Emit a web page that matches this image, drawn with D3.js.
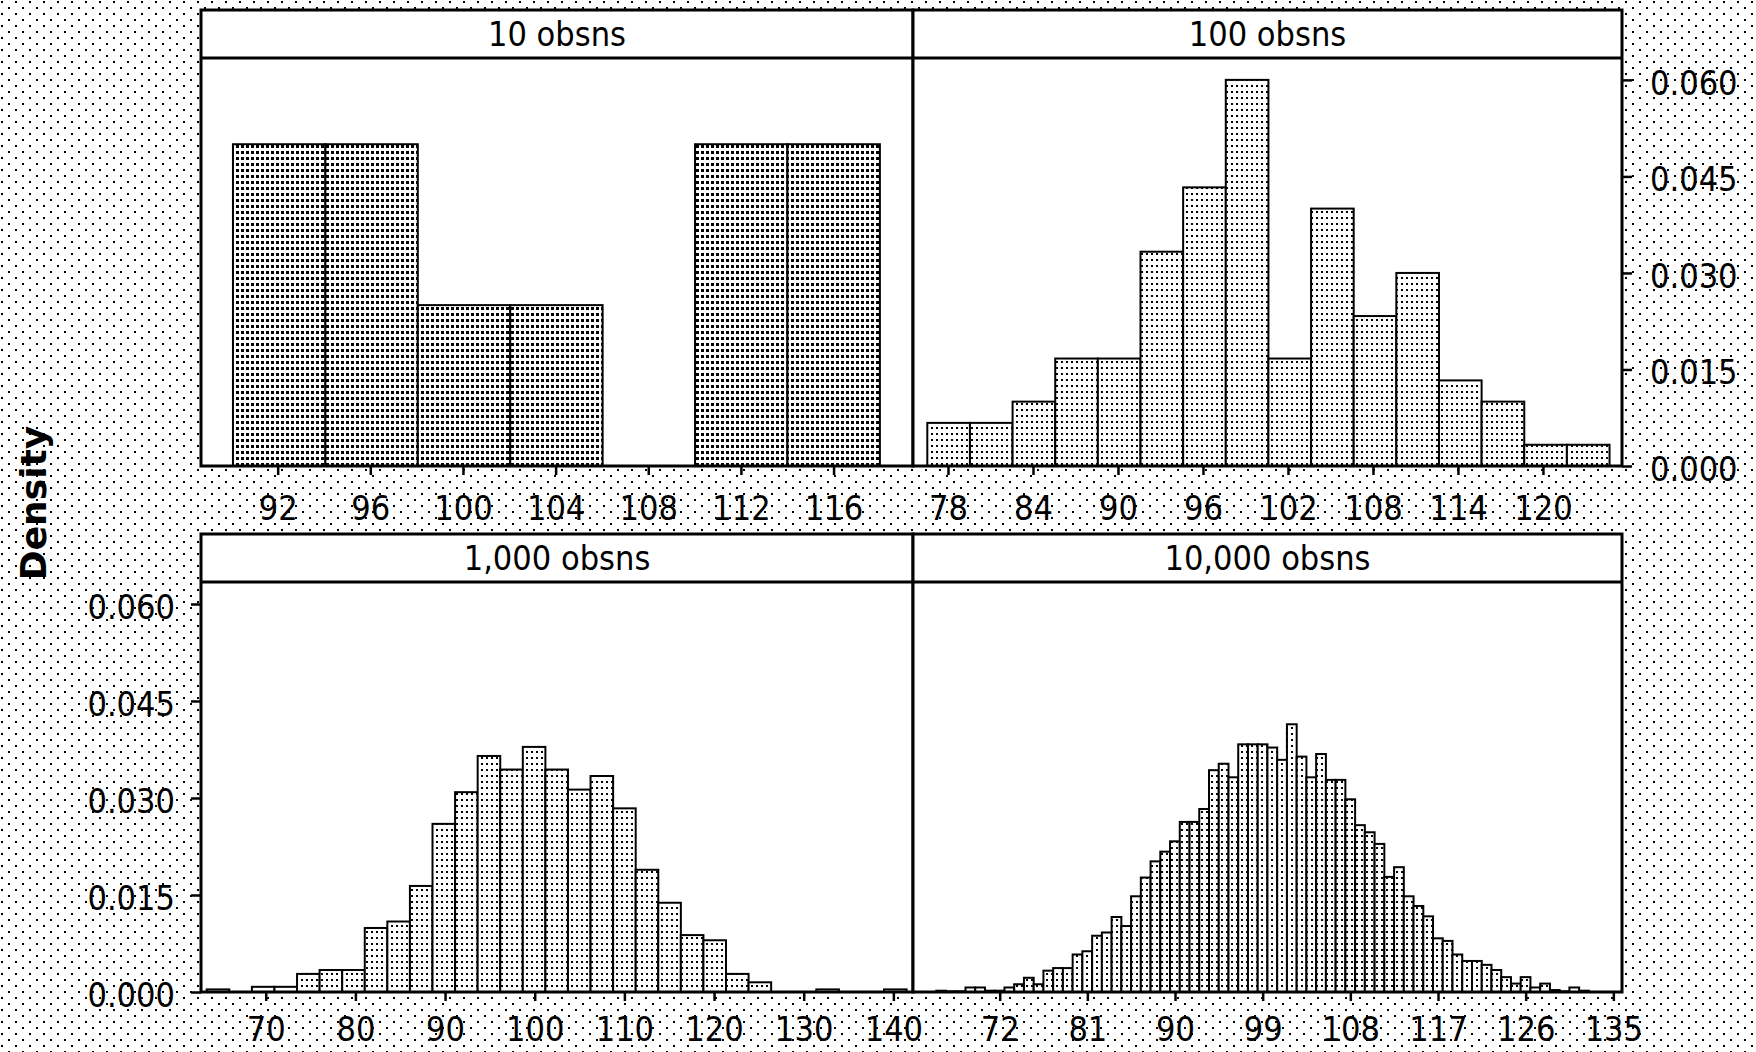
<!DOCTYPE html>
<html>
<head>
<meta charset="utf-8">
<script src="https://cdn.jsdelivr.net/npm/d3@7"></script>
<style>
	html, body { margin: 0; padding: 0; background: #fff; }
	svg { display: block; }
</style>
</head>
<body>
<svg id="chart" width="1756" height="1052"></svg>
<script>

const titles = ["10 obsns", "100 obsns", "1,000 obsns", "10,000 obsns"];

// lower edge of the first bin and bin width, per panel
const binStart = [90.07, 76.54, 63.42, 65.49];
const binWidth = [3.99, 3.01, 2.518, 1.0];

const density10 = [0.05, 0.05, 0.025, 0.025, 0, 0.05, 0.05];

const density100 = [0.0067, 0.0067, 0.01, 0.0167, 0.0167, 0.0333, 0.0433, 0.06,
	0.0167, 0.04, 0.0233, 0.03, 0.0133, 0.01, 0.0033, 0.0033];

const density1000 = [0.0004, 0, 0.0008, 0.0008, 0.0028, 0.0034, 0.0034, 0.0099,
	0.0109, 0.0164, 0.026, 0.0309, 0.0365, 0.0344, 0.0379, 0.0344, 0.0313, 0.0334,
	0.0284, 0.0189, 0.0138, 0.0088, 0.008, 0.0028, 0.0015, 0, 0, 0.0004, 0, 0, 0.0004];

const density10000 = [0.0002, 0.0001, 0.0001, 0.0007, 0.0007, 0.0002, 0.0002, 0.0007,
	0.0012, 0.0022, 0.0012, 0.0033, 0.0037, 0.0037, 0.0058, 0.0063, 0.0087, 0.0092,
	0.0116, 0.0102, 0.0148, 0.0177, 0.0202, 0.0217, 0.0233, 0.0263, 0.0263, 0.0283,
	0.0343, 0.0353, 0.0332, 0.0383, 0.0383, 0.0383, 0.0378, 0.0359, 0.0414, 0.0364,
	0.0332, 0.0368, 0.0328, 0.0328, 0.0298, 0.0258, 0.0247, 0.0229, 0.0178, 0.0193,
	0.0148, 0.0133, 0.0117, 0.0083, 0.0079, 0.0058, 0.0048, 0.0048, 0.0042, 0.0034,
	0.0023, 0.0013, 0.0023, 0.0007, 0.0013, 0.0003, 0.0001, 0.0007, 0.0002];

const xDomains = [[88.69, 119.43], [75.53, 125.58], [62.78, 142.19], [63.1, 135.89]];

const xTicks = [
	[92, 96, 100, 104, 108, 112, 116],
	[78, 84, 90, 96, 102, 108, 114, 120],
	[70, 80, 90, 100, 110, 120, 130, 140],
	[72, 81, 90, 99, 108, 117, 126, 135]
];

const yTicks = [0, 0.015, 0.030, 0.045, 0.060];
const yMax = 0.0634;

const densities = [density10, density100, density1000, density10000];

// layout (pixels)
const colEdges = [201, 913, 1622];
const rowTop = [10, 534];
const rowHead = [58, 582];
const rowBase = [466, 992];
const labelPad = [21, 16];

const font = '"DejaVu Sans Condensed", "DejaVu Sans", sans-serif';
const fontSize = 34;

const svg = d3.select("#chart");
const defs = svg.append("defs");

// dithered look of the original: sparse dots outside, denser dots in the bars
const bg = defs.append("pattern")
	.attr("id", "bg-dots")
	.attr("patternUnits", "userSpaceOnUse")
	.attr("width", 14).attr("height", 12);
bg.append("rect").attr("width", 14).attr("height", 12).attr("fill", "#fff");
bg.append("rect").attr("x", 1).attr("y", 1).attr("width", 2).attr("height", 2).attr("fill", "#000");
bg.append("rect").attr("x", 8).attr("y", 7).attr("width", 2).attr("height", 2).attr("fill", "#000");

function barPattern(id, w, h, dot) {
	const p = defs.append("pattern")
		.attr("id", id)
		.attr("patternUnits", "userSpaceOnUse")
		.attr("width", w).attr("height", h);
	p.append("rect").attr("width", w).attr("height", h).attr("fill", "#fff");
	p.append("rect").attr("x", 1).attr("y", 1).attr("width", dot).attr("height", dot).attr("fill", "#000");
}
barPattern("bar-dense", 5, 6, 3);
barPattern("bar-light", 5, 6, 2);

svg.append("rect")
	.attr("width", 1756).attr("height", 1052)
	.attr("fill", "url(#bg-dots)");

densities.forEach((dens, i) => {
	const col = i % 2, row = Math.floor(i / 2);
	const x0 = colEdges[col], x1 = colEdges[col + 1];
	const top = rowTop[row], head = rowHead[row], base = rowBase[row];

	const x = d3.scaleLinear().domain(xDomains[i]).range([x0, x1]);
	const y = d3.scaleLinear().domain([0, yMax]).range([base, head]);

	const g = svg.append("g").attr("class", "panel");

	g.append("rect")
		.attr("x", x0).attr("y", top)
		.attr("width", x1 - x0).attr("height", base - top)
		.attr("fill", "#fff");

	const lo = k => binStart[i] + k * binWidth[i];

	g.append("g").selectAll("rect")
		.data(dens)
		.join("rect")
		.attr("x", (d, k) => x(lo(k)))
		.attr("width", (d, k) => x(lo(k + 1)) - x(lo(k)))
		.attr("y", d => y(d))
		.attr("height", d => y(0) - y(d))
		.attr("fill", i === 0 ? "url(#bar-dense)" : "url(#bar-light)")
		.attr("stroke", "#000")
		.attr("stroke-width", 2);

	// frame and title strip
	g.append("rect")
		.attr("x", x0).attr("y", top)
		.attr("width", x1 - x0).attr("height", base - top)
		.attr("fill", "none")
		.attr("stroke", "#000")
		.attr("stroke-width", 3);

	g.append("line")
		.attr("x1", x0).attr("x2", x1)
		.attr("y1", head).attr("y2", head)
		.attr("stroke", "#000")
		.attr("stroke-width", 3);

	g.append("text")
		.attr("x", (x0 + x1) / 2)
		.attr("y", (top + head) / 2 + 12)
		.attr("text-anchor", "middle")
		.attr("font-family", font)
		.attr("font-size", fontSize)
		.text(titles[i]);

	const xAxis = g.append("g")
		.attr("transform", "translate(0," + base + ")")
		.call(d3.axisBottom(x)
			.tickValues(xTicks[i])
			.tickFormat(d3.format("d"))
			.tickSize(9)
			.tickPadding(labelPad[row])
			.tickSizeOuter(0));
	styleAxis(xAxis);

	// density axis: right of the top-right panel, left of the bottom-left panel
	if (i === 1) {
		const yAxis = g.append("g")
			.attr("transform", "translate(" + x1 + ",0)")
			.call(d3.axisRight(y).tickValues(yTicks).tickFormat(d3.format(".3f")).tickSize(10).tickPadding(18));
		styleAxis(yAxis);
		yAxis.selectAll("text").attr("dy", "0.42em");
	}
	if (i === 2) {
		const yAxis = g.append("g")
			.attr("transform", "translate(" + x0 + ",0)")
			.call(d3.axisLeft(y).tickValues(yTicks).tickFormat(d3.format(".3f")).tickSize(10).tickPadding(16));
		styleAxis(yAxis);
		yAxis.selectAll("text").attr("dy", "0.42em");
	}
});

function styleAxis(a) {
	a.select(".domain").remove();
	a.attr("font-family", font).attr("font-size", fontSize);
	a.selectAll(".tick line").attr("stroke", "#000").attr("stroke-width", 2.5);
	a.selectAll(".tick text").attr("fill", "#000");
}

svg.append("text")
	.attr("transform", "translate(46,503) rotate(-90)")
	.attr("text-anchor", "middle")
	.attr("font-family", '"DejaVu Sans", sans-serif')
	.attr("font-weight", "bold")
	.attr("font-size", 36)
	.text("Density");

</script>
</body>
</html>
